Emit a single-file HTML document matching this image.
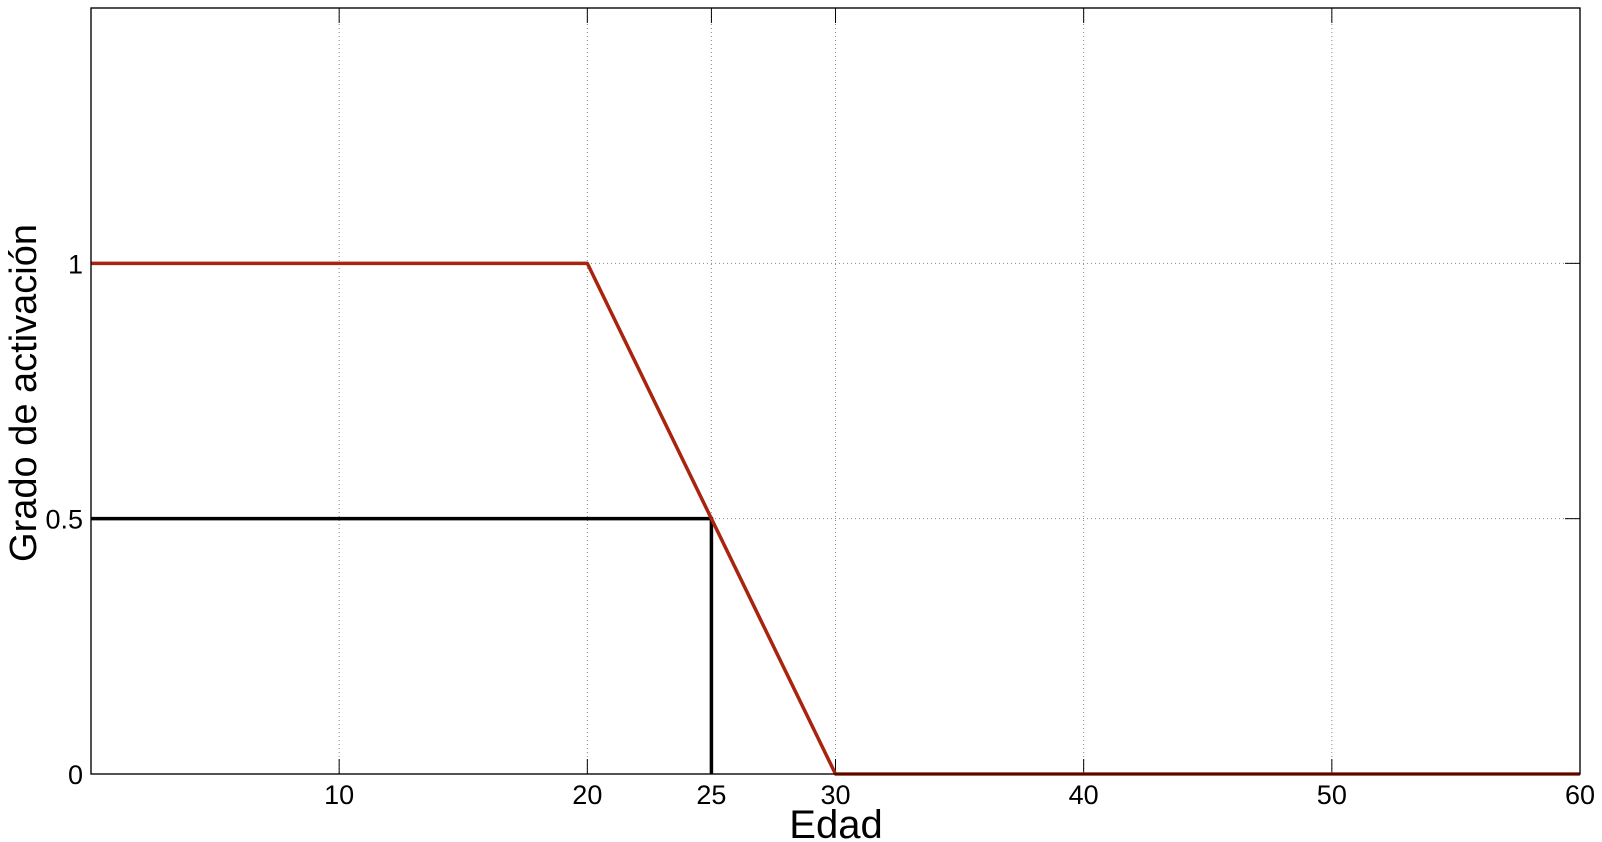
<!DOCTYPE html>
<html><head><meta charset="utf-8"><style>
body{margin:0;background:#fff;}
svg{display:block;font-family:"Liberation Sans",Arial,sans-serif;}
</style></head><body>
<svg id="chart" width="1602" height="842"></svg>
<script>
const xTicks=[10,20,25,30,40,50,60];
const yTicks=[0,0.5,1];
const seriesX=[0,20,25,30,60];
const seriesY=[1,1,0.5,0,0];
const cutX=[0,25,25];
const cutY=[0.5,0.5,0];
const L=91,R=1580,T=8,B=774,XMAX=60,YMAX=1.5;
const sx=v=>L+(R-L)*v/XMAX, sy=v=>B-(B-T)*v/YMAX;
const svg=document.getElementById('chart'),NS='http://www.w3.org/2000/svg';
function mk(t,a,p){const e=document.createElementNS(NS,t);for(const k in a)e.setAttribute(k,a[k]);(p||svg).appendChild(e);return e;}
let r=mk('rect',{x:L,y:T,width:R-L,height:B-T,fill:'#fff',stroke:'#000','stroke-width':1.2});


xTicks.forEach(v=>{const x=sx(v);
 if(v<XMAX){let g=mk('line',{x1:x,x2:x,y1:T,y2:B,stroke:'#888','stroke-dasharray':'1 3'});
 }
 mk('line',{x1:x,x2:x,y1:B,y2:B-15,stroke:'#000'});mk('line',{x1:x,x2:x,y1:T,y2:T+15,stroke:'#000'});
 let t=mk('text',{x:x,y:804,'text-anchor':'middle','font-size':27});t.textContent=v;
 });
yTicks.forEach(v=>{const y=sy(v);
 if(v>0){let g=mk('line',{x1:L,x2:R,y1:y,y2:y,stroke:'#888','stroke-dasharray':'1 3'});
 }
 mk('line',{x1:L,x2:L+15,y1:y,y2:y,stroke:'#000'});mk('line',{x1:R,x2:R-15,y1:y,y2:y,stroke:'#000'});
 let t=mk('text',{x:L-8,y:y+10,'text-anchor':'end','font-size':27});t.textContent=v;
 });
let c=mk('polyline',{points:cutX.map((v,i)=>sx(v)+','+sy(cutY[i])).join(' '),fill:'none',stroke:'#000','stroke-width':3.5});


let s=mk('polyline',{points:seriesX.map((v,i)=>sx(v)+','+sy(seriesY[i])).join(' '),fill:'none',stroke:'#a8240f','stroke-width':3.5,'stroke-linejoin':'round'});


mk('rect',{x:L,y:T,width:R-L,height:B-T,fill:'none',stroke:'#000','stroke-width':1.2});
let xl=mk('text',{x:836,y:838,'text-anchor':'middle','font-size':40});xl.textContent='Edad';


let yl=mk('text',{x:0,y:0,'text-anchor':'middle','font-size':38,transform:'translate(36,393) rotate(-90)'});yl.textContent='Grado de activación';


</script>
</body></html>
